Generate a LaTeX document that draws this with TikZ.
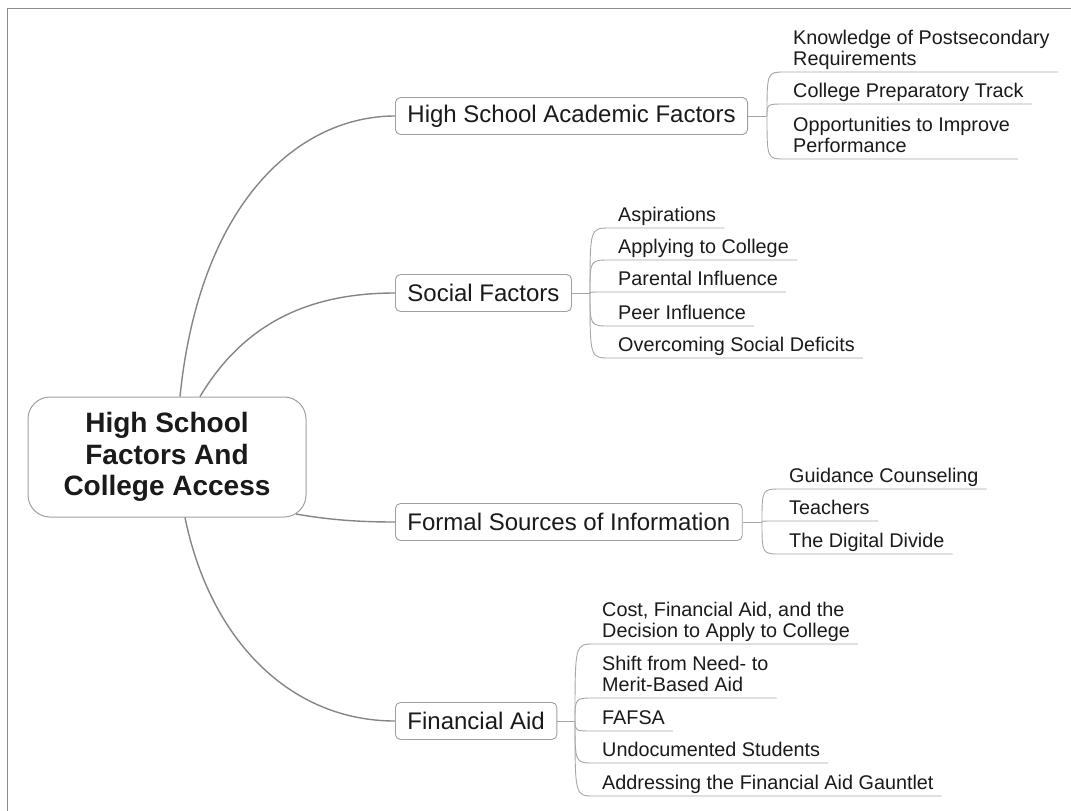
\documentclass[tikz,border=0pt]{standalone}
\usepackage{fontspec}
\setmainfont{Liberation Sans}
\definecolor{ink}{HTML}{1A1A1A}
\definecolor{framegray}{HTML}{8C8C8C}
\definecolor{boxgray}{HTML}{A0A0A0}
\definecolor{linkgray}{HTML}{858585}
\definecolor{twiggray}{HTML}{A6A6A6}
\begin{document}
\begin{tikzpicture}[x=1pt,y=-1pt,
  frame/.style={draw=framegray,line width=1pt},
  rootbox/.style={draw=boxgray,line width=1pt,fill=white,rounded corners=22pt,
    minimum width=278pt,minimum height=120pt,align=center,inner sep=0pt,
    font=\fontsize{28}{31.5}\selectfont\bfseries,text=ink},
  topic/.style={draw=boxgray,line width=0.9pt,fill=white,rounded corners=5pt,
    minimum height=37pt,inner xsep=12pt,inner ysep=0pt,anchor=west,
    font=\fontsize{24}{27}\selectfont,text=ink},
  leaf/.style={anchor=south west,inner xsep=8pt,inner ysep=0pt,text depth=6pt,
    align=left,font=\fontsize{19.8}{21}\selectfont,text=ink},
  branch/.style={draw=linkgray,line width=1.4pt},
  twig/.style={draw=twiggray,line width=0.9pt},
]
\useasboundingbox (0,0) rectangle (1071,811);

% page frame (top and left edges)
\draw[frame] (7,811) -- (7,8) -- (1071,8);

% central topic
\node[rootbox] (root) at (167,457) {High School\\Factors And\\College Access};

% main topics
\node[topic] (t1) at (395,116) {High School Academic Factors};
\node[topic] (t2) at (395,293) {Social Factors};
\node[topic] (t3) at (395,522) {Formal Sources of Information};
\node[topic] (t4) at (395,721) {Financial Aid};

% branches from the central topic
\draw[branch] (root.north -| 180,0) .. controls (200,200) and (300,116) .. (t1.west);
\draw[branch] (root.north -| 200,0) .. controls (240,330) and (300,293) .. (t2.west);
\draw[branch] (296,514) .. controls (330,520) and (360,522) .. (t3.west);
\draw[branch] (root.south -| 185,0) .. controls (210,640) and (290,721) .. (t4.west);

% fork points of the subtopics
\coordinate (f1) at (767,116);
\coordinate (f2) at (590,293);
\coordinate (f3) at (762,522);
\coordinate (f4) at (575,721);
\draw[twig] (t1.east) -- (f1);
\draw[twig] (t2.east) -- (f2);
\draw[twig] (t3.east) -- (f3);
\draw[twig] (t4.east) -- (f4);

% subtopics
\node[leaf] (a1) at (785,72) {Knowledge of Postsecondary\\Requirements};
\node[leaf] (a2) at (785,104) {College Preparatory Track};
\node[leaf] (a3) at (785,159) {Opportunities to Improve\\Performance};

\node[leaf] (b1) at (610,228) {Aspirations};
\node[leaf] (b2) at (610,260) {Applying to College};
\node[leaf] (b3) at (610,292) {Parental Influence};
\node[leaf] (b4) at (610,326) {Peer Influence};
\node[leaf] (b5) at (610,358) {Overcoming Social Deficits};

\node[leaf] (c1) at (781,489) {Guidance Counseling};
\node[leaf] (c2) at (781,521) {Teachers};
\node[leaf] (c3) at (781,554) {The Digital Divide};

\node[leaf] (d1) at (594,644) {Cost, Financial Aid, and the\\Decision to Apply to College};
\node[leaf] (d2) at (594,698) {Shift from Need- to\\Merit-Based Aid};
\node[leaf] (d3) at (594,731) {FAFSA};
\node[leaf] (d4) at (594,763) {Undocumented Students};
\node[leaf] (d5) at (594,796) {Addressing the Financial Aid Gauntlet};

% underlined twigs from each fork
\foreach \f/\l in {f1/a1,f1/a2,f1/a3,f2/b1,f2/b2,f2/b3,f2/b4,f2/b5,
                   f3/c1,f3/c2,f3/c3,f4/d1,f4/d2,f4/d3,f4/d4,f4/d5}{
  \draw[twig] (\f) .. controls (\f |- \l.south west) .. (\l.south west) -- (\l.south east);
}
\end{tikzpicture}
\end{document}
